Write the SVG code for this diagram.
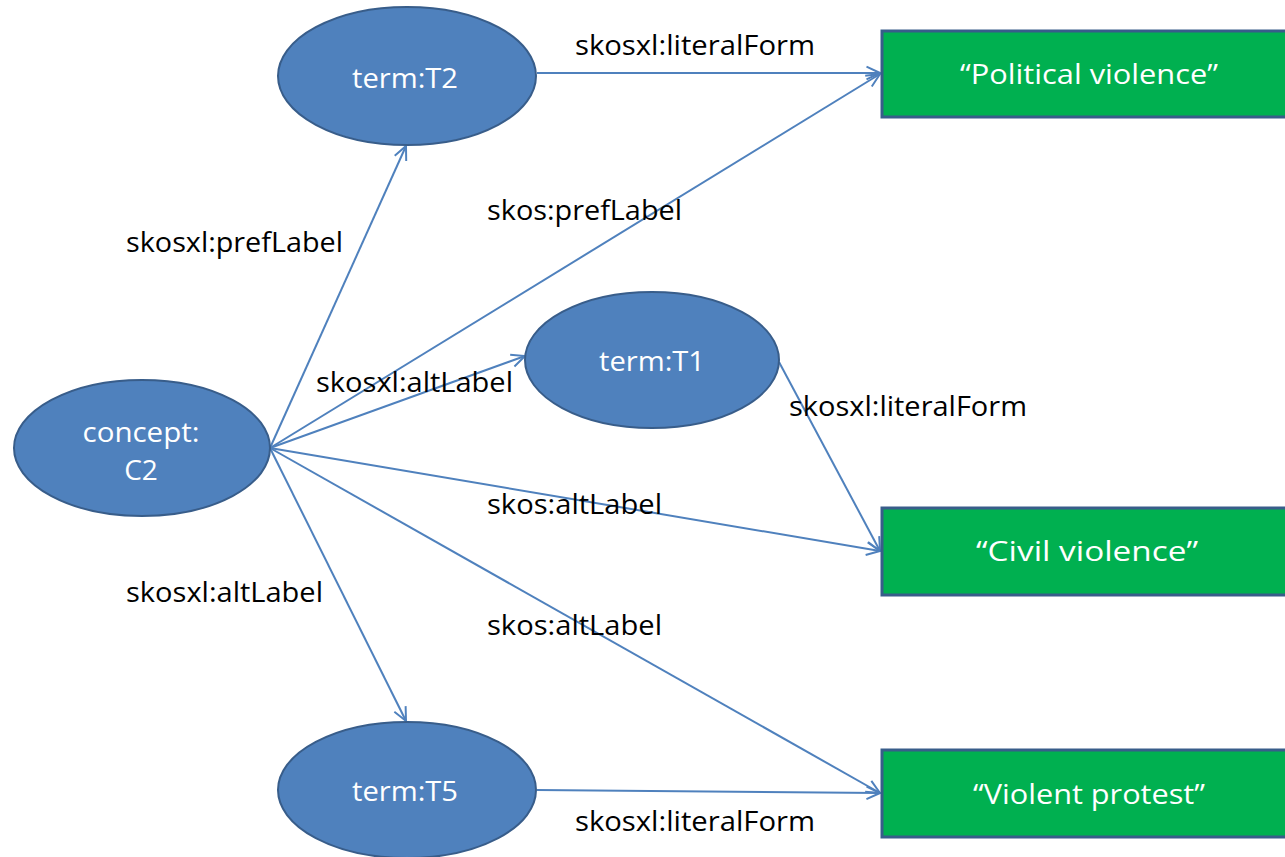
<svg xmlns="http://www.w3.org/2000/svg" width="1285" height="857" viewBox="0 0 1285 857">
<style>
.ell{fill:#4F81BD;stroke:#385D8A;stroke-width:2}
.box{fill:#00B050;stroke:#385D8A;stroke-width:3}
.nt{font-family:"Open Sans","Liberation Sans",sans-serif;font-size:28px;fill:#FFFFFF;text-anchor:middle}
.el{font-family:"Open Sans","Liberation Sans",sans-serif;font-size:27px;fill:#000000}
.c{stroke:#4F81BD;stroke-width:2;fill:none;marker-end:url(#ah)}
</style>
<defs>
<marker id="ah" viewBox="0 0 20 20" refX="19" refY="10" markerWidth="18" markerHeight="18" markerUnits="userSpaceOnUse" orient="auto">
<path d="M4,3 L19,10 L4,17" fill="none" stroke="#4F81BD" stroke-width="2.2"/>
</marker>
</defs>
<rect width="1285" height="857" fill="#FFFFFF"/>
<g id="connectors">
<line class="c" x1="270" y1="448" x2="406" y2="146"/>
<line class="c" x1="270" y1="448" x2="880" y2="74"/>
<line class="c" x1="270" y1="448" x2="525" y2="356"/>
<line class="c" x1="270" y1="448" x2="880" y2="551"/>
<line class="c" x1="270" y1="448" x2="880" y2="793"/>
<line class="c" x1="270" y1="448" x2="406" y2="721"/>
<line class="c" x1="537" y1="73" x2="880" y2="73"/>
<line class="c" x1="779" y1="362" x2="880" y2="551"/>
<line class="c" x1="537" y1="790" x2="880" y2="793"/>
<text class="el" x="575" y="55" textLength="240" lengthAdjust="spacingAndGlyphs">skosxl:literalForm</text>
<text class="el" x="487" y="220" textLength="195" lengthAdjust="spacingAndGlyphs">skos:prefLabel</text>
<text class="el" x="126" y="252" textLength="217" lengthAdjust="spacingAndGlyphs">skosxl:prefLabel</text>
<text class="el" x="316" y="392" textLength="197" lengthAdjust="spacingAndGlyphs">skosxl:altLabel</text>
<text class="el" x="789" y="416" textLength="238" lengthAdjust="spacingAndGlyphs">skosxl:literalForm</text>
<text class="el" x="487" y="514" textLength="175" lengthAdjust="spacingAndGlyphs">skos:altLabel</text>
<text class="el" x="126" y="602" textLength="197" lengthAdjust="spacingAndGlyphs">skosxl:altLabel</text>
<text class="el" x="487" y="635" textLength="175" lengthAdjust="spacingAndGlyphs">skos:altLabel</text>
<text class="el" x="575" y="831" textLength="240" lengthAdjust="spacingAndGlyphs">skosxl:literalForm</text>
</g>
<g id="concept-C2">
<ellipse class="ell" cx="142" cy="448" rx="128" ry="68"/>
<text class="nt" x="141" y="442" textLength="117" lengthAdjust="spacingAndGlyphs">concept:</text>
<text class="nt" x="141" y="480">C2</text>
</g>
<g id="term-T2">
<ellipse class="ell" cx="407" cy="76" rx="129" ry="69"/>
<text class="nt" x="405" y="88" textLength="106" lengthAdjust="spacingAndGlyphs">term:T2</text>
</g>
<g id="term-T1">
<ellipse class="ell" cx="652" cy="360" rx="127" ry="68"/>
<text class="nt" x="652" y="371" textLength="106" lengthAdjust="spacingAndGlyphs">term:T1</text>
</g>
<g id="term-T5">
<ellipse class="ell" cx="407" cy="790" rx="129" ry="68"/>
<text class="nt" x="405" y="801" textLength="106" lengthAdjust="spacingAndGlyphs">term:T5</text>
</g>
<g id="lit-political">
<rect class="box" x="882" y="31" width="410" height="86"/>
<text class="nt" x="1089" y="84" textLength="258" lengthAdjust="spacingAndGlyphs">“Political violence”</text>
</g>
<g id="lit-civil">
<rect class="box" x="882" y="508" width="410" height="87"/>
<text class="nt" x="1087" y="561" textLength="222" lengthAdjust="spacingAndGlyphs">“Civil violence”</text>
</g>
<g id="lit-protest">
<rect class="box" x="882" y="750" width="410" height="87"/>
<text class="nt" x="1089" y="804" textLength="232" lengthAdjust="spacingAndGlyphs">“Violent protest”</text>
</g>
</svg>
